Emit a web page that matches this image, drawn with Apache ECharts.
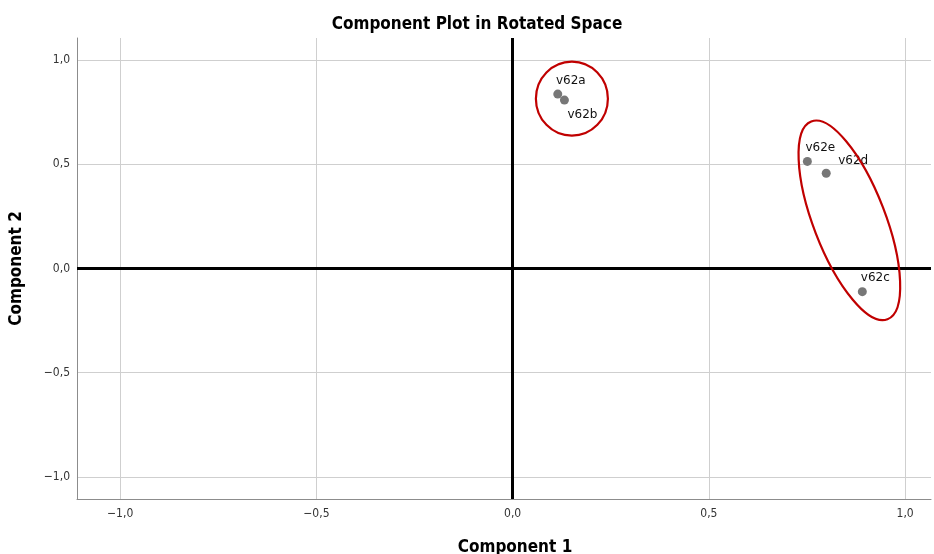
<!DOCTYPE html>
<html>
<head>
<meta charset="utf-8">
<script src="https://cdn.jsdelivr.net/npm/echarts@6/dist/echarts.min.js"></script>
<style>
  html, body { margin: 0; padding: 0; background: #fff; }
  #chart { width: 934px; height: 554px; }
</style>
</head>
<body>
<div id="chart"></div>
<script>
// loadings
const itemNames = ['v62a', 'v62b', 'v62c', 'v62d', 'v62e'];
const comp1 = [0.115, 0.132, 0.891, 0.799, 0.751];
const comp2 = [0.837, 0.808, -0.111, 0.457, 0.514];
const tickValues = [-1, -0.5, 0, 0.5, 1];

// where each label sits around its point
const labelPos = {
  v62a: { position: 'top', offset: [13, 1] },
  v62b: { position: 'bottom', offset: [18, 0] },
  v62c: { position: 'top', offset: [13, 1] },
  v62d: { position: 'top', offset: [27, 2] },
  v62e: { position: 'top', offset: [13, 1] }
};

const fmt = v => (Math.round(v * 10) / 10).toFixed(1).replace('.', ',').replace('-', '\u2212');
const condFont = "'Liberation Sans Narrow', 'DejaVu Sans Condensed', sans-serif";

const points = itemNames.map((n, i) => ({
  name: n,
  value: [comp1[i], comp2[i]],
  label: labelPos[n]
}));

const chart = echarts.init(document.getElementById('chart'));

const option = {
  animation: false,
  title: [
    {
      text: 'Component Plot in Rotated Space',
      left: 472, top: 11, textAlign: 'center',
      textStyle: { fontFamily: condFont, fontSize: 17, fontWeight: 'bold', color: '#000' }
    },
    {
      text: 'Component 1',
      left: 510, top: 534, textAlign: 'center',
      textStyle: { fontFamily: condFont, fontSize: 17, fontWeight: 'bold', color: '#000' }
    }
  ],
  grid: { left: 76, right: 3, top: 38, bottom: 55 },
  xAxis: {
    type: 'value',
    min: -1.11, max: 1.066,
    axisLine: { onZero: false, lineStyle: { color: '#8c8c8c', width: 1 } },
    axisTick: { show: false, customValues: tickValues },
    axisLabel: {
      customValues: tickValues, formatter: fmt, margin: 9,
      fontFamily: condFont, fontSize: 12, color: '#333'
    },
    splitLine: { show: true, lineStyle: { color: '#cfcfcf', width: 1 } }
  },
  yAxis: {
    type: 'value',
    min: -1.106, max: 1.106,
    name: 'Component 2',
    nameLocation: 'middle', nameGap: 52, nameRotate: 90,
    nameTextStyle: { fontFamily: condFont, fontSize: 17, fontWeight: 'bold', color: '#000' },
    axisLine: { onZero: false, lineStyle: { color: '#8c8c8c', width: 1 } },
    axisTick: { show: false, customValues: tickValues },
    axisLabel: {
      customValues: tickValues, formatter: fmt, margin: 7,
      fontFamily: condFont, fontSize: 12, color: '#333'
    },
    splitLine: { show: true, lineStyle: { color: '#cfcfcf', width: 1 } }
  },
  series: [
    {
      type: 'scatter',
      data: points,
      symbolSize: 9,
      itemStyle: { color: '#777777', opacity: 1 },
      label: {
        show: true,
        formatter: p => p.name,
        fontFamily: "'DejaVu Sans', sans-serif",
        fontSize: 12,
        color: '#111',
        distance: 4
      },
      markLine: {
        silent: true,
        symbol: 'none',
        label: { show: false },
        lineStyle: { color: '#000', width: 3, type: 'solid' },
        data: [{ xAxis: 0 }, { yAxis: 0 }]
      },
      z: 5
    }
  ]
};

chart.setOption(option);

// red rings drawn round the two groups, centred on data positions
const rings = [
  { center: [0.151, 0.815], rx: 36, ry: 37, rot: 0 },
  { center: [0.858, 0.231], rx: 36, ry: 106, rot: 0.368 }
];
chart.setOption({
  graphic: rings.map(r => {
    const p = chart.convertToPixel({ gridIndex: 0 }, r.center);
    return {
      type: 'ellipse',
      x: p[0], y: p[1],
      rotation: r.rot,
      shape: { cx: 0, cy: 0, rx: r.rx, ry: r.ry },
      style: { fill: null, stroke: '#c00000', lineWidth: 2.2 },
      silent: true,
      z: 10
    };
  })
});
</script>
</body>
</html>
